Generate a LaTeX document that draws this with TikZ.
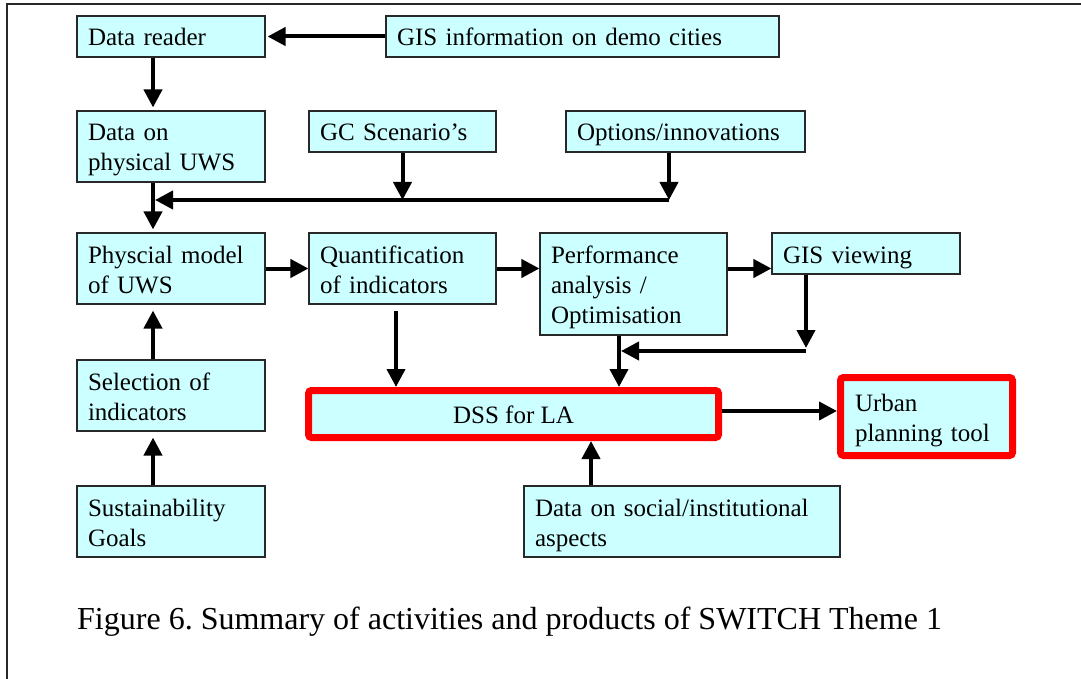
\documentclass[tikz,border=0pt]{standalone}
\usepackage{fontspec}
\setmainfont{Liberation Serif}
\usetikzlibrary{arrows.meta}
\definecolor{boxfill}{RGB}{204,255,255}
\definecolor{edgegray}{RGB}{40,40,40}
\definecolor{hotred}{RGB}{255,0,0}
\frenchspacing
% line strut: 24.5pt above the baseline, 5.5pt below
\newcommand{\ls}{\rule[-5.5pt]{0pt}{30pt}}
\tikzset{
  blk/.style={draw=edgegray, line width=1.1pt, fill=boxfill, inner xsep=11pt, inner ysep=0pt,
    align=left, font=\fontsize{25}{30}\selectfont, anchor=center},
  hot/.style={draw=hotred, line width=7pt, fill=boxfill, rounded corners=3pt, inner ysep=0pt,
    font=\fontsize{25}{30}\selectfont, anchor=center},
  arr/.style={line width=4pt, -{Triangle[length=18pt,width=18pt]}},
}
\begin{document}
\begin{tikzpicture}[x=1pt,y=-1pt]
\useasboundingbox (0,0) rectangle (1081,679);
% outer frame (left and top edges)
\draw[edgegray, line width=2pt] (7,679) -- (7,4) -- (1081,4);

% blocks
\node[blk, minimum width=188, minimum height=41, text width=166] (reader) at (171,36.5) {\ls Data reader};
\node[blk, minimum width=393, minimum height=41, text width=371] (gisinfo) at (582.5,36.5) {\ls GIS information on demo cities};
\node[blk, minimum width=188, minimum height=71, text width=166] (dataphys) at (171,146.5) {\ls Data on\\\ls physical UWS};
\node[blk, minimum width=187, minimum height=41, text width=165] (gc) at (402.5,131.5) {\ls GC Scenario’s};
\node[blk, minimum width=239, minimum height=41, text width=217] (options) at (685.5,131.5) {\ls Options/innovations};
\node[blk, minimum width=188, minimum height=71, text width=166] (phys) at (171,268.5) {\ls Physcial model\\\ls of UWS};
\node[blk, minimum width=187, minimum height=71, text width=165] (quant) at (402.5,268.5) {\ls Quantification\\\ls of indicators};
\node[blk, minimum width=187, minimum height=102, text width=165] (perf) at (633.5,284) {\ls Performance\\\ls analysis /\\\ls Optimisation};
\node[blk, minimum width=188, minimum height=41, text width=166] (gisview) at (866,253.5) {\ls GIS viewing};
\node[blk, minimum width=188, minimum height=71, text width=166] (sel) at (171,395.5) {\ls Selection of\\\ls indicators};
\node[blk, minimum width=188, minimum height=71, text width=166] (sust) at (171,521.5) {\ls Sustainability\\\ls Goals};
\node[blk, minimum width=316, minimum height=71, text width=294] (social) at (682,521.5) {\ls Data on social/institutional\\\ls aspects};
\node[hot, minimum width=410, minimum height=47, align=center] (dss) at (513.5,414) {\ls DSS for LA};
\node[hot, minimum width=172, minimum height=78, inner xsep=14.5pt, text width=143, align=left] (urban) at (926.5,416.5) {\ls Urban\\\ls planning tool};

% routing points
\coordinate (spine) at (153,0);
\coordinate (bus) at (669,200);
\coordinate (merge) at (806,351);
\coordinate (pdrop) at (619,0);
\coordinate (sdrop) at (591,0);
\coordinate (qdrop) at (396,0);

% connectors
\draw[arr, shorten >=2pt] (gisinfo.west) -- (reader.east);
\draw[arr, shorten >=3pt] (reader.south -| spine) -- (dataphys.north -| spine);
\draw[arr] (gc.south) -- (gc.south |- bus);
\draw[arr] (options.south -| bus) -- (bus);
\draw[arr, shorten >=2pt] (bus) -- (bus -| spine);
\draw[arr, shorten >=3pt] (dataphys.south -| spine) -- (phys.north -| spine);
\draw[arr] (phys.east) -- (quant.west);
\draw[arr] (quant.east) -- (quant.east -| perf.west);
\draw[arr] (quant.east -| perf.east) -- (quant.east -| gisview.west);
\draw[arr, shorten <=6pt] (quant.south -| qdrop) -- (dss.north -| qdrop);
\draw[arr, shorten >=3pt] (gisview.south -| merge) -- (merge);
\draw[arr, shorten >=2pt] (merge) -- (merge -| pdrop);
\draw[arr] (perf.south -| pdrop) -- (dss.north -| pdrop);
\draw[arr] ([yshift=3pt]dss.east) -- ([yshift=3pt]dss.east -| urban.west);
\draw[arr] (social.north -| sdrop) -- (dss.south -| sdrop);
\draw[arr, shorten >=6pt] (sel.north -| spine) -- (phys.south -| spine);
\draw[arr, shorten >=6pt] (sust.north -| spine) -- (sel.south -| spine);

% caption
\node[anchor=base west, inner sep=0pt, font=\fontsize{32}{38}\selectfont] (caption) at (77,629)
  {Figure 6. Summary of activities and products of SWITCH Theme 1};
\end{tikzpicture}
\end{document}
